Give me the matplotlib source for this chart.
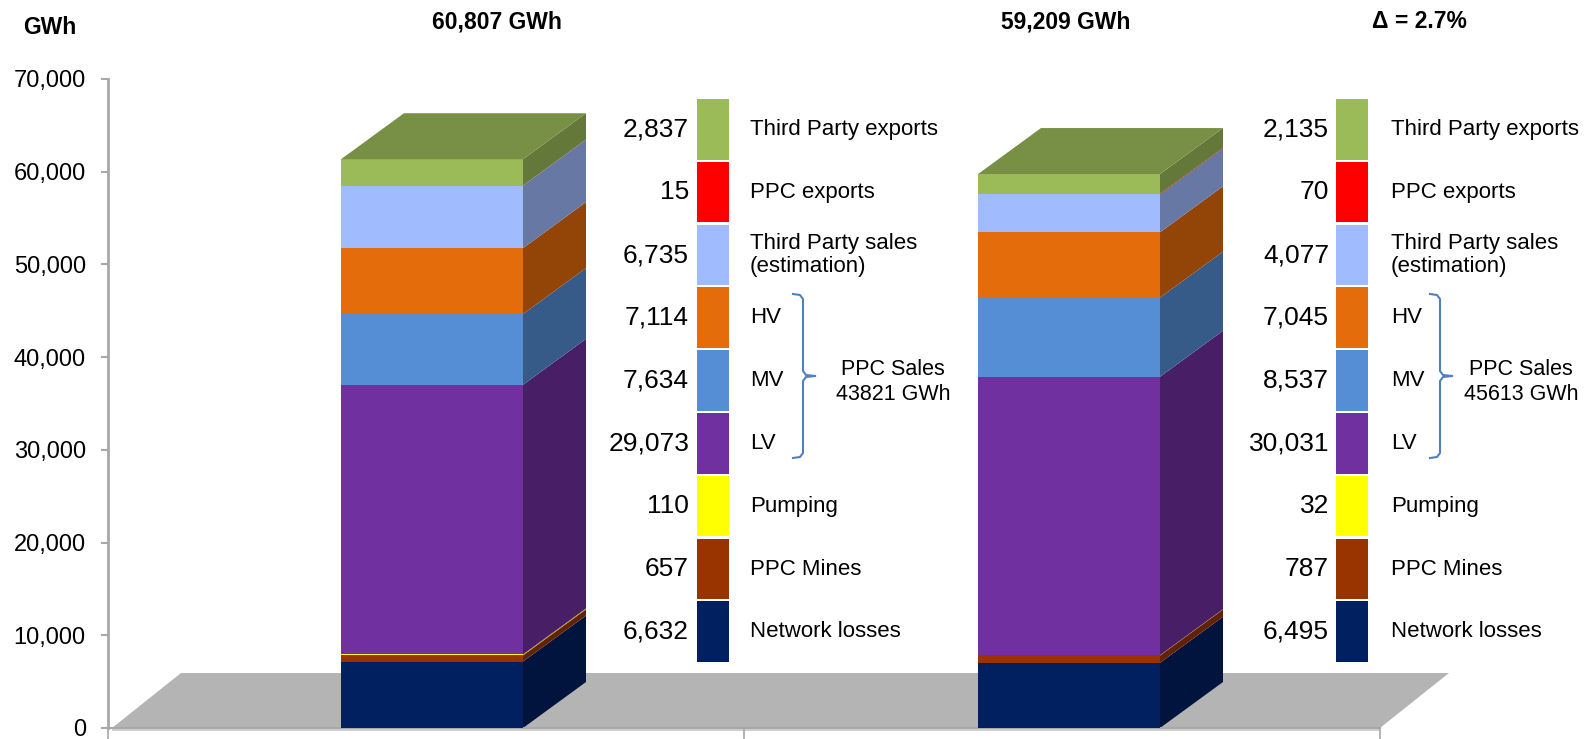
import numpy as np
import matplotlib
matplotlib.use("Agg")
import matplotlib.pyplot as plt
from matplotlib.patches import Polygon, Rectangle
from matplotlib.ticker import FuncFormatter
from matplotlib.colors import to_rgb

plt.rcParams['font.family'] = ['Liberation Sans', 'DejaVu Sans']

# Datos (de abajo hacia arriba)
categories = ["Network losses", "PPC Mines", "Pumping", "LV", "MV", "HV",
              "Third Party sales\n(estimation)", "PPC exports", "Third Party exports"]
vals_1 = [6632, 657, 110, 29073, 7634, 7114, 6735, 15, 2837]
vals_2 = [6495, 787, 32, 30031, 8537, 7045, 4077, 70, 2135]
colors = ["#002060", "#993300", "#ffff00", "#7030a0", "#558ed5", "#e46c0a",
          "#a0bcfe", "#ff0000", "#9bbb59"]
yticks = [0, 10000, 20000, 30000, 40000, 50000, 60000, 70000]

W, H = 1592, 739
fig = plt.figure(figsize=(W / 100, H / 100), dpi=100)

# Eje principal: x en pixeles, y en GWh
y0_px, ytop_px = 728, 79
ax = fig.add_axes([0, (H - y0_px) / H, 1, (y0_px - ytop_px) / H])
ax.set_xlim(0, W)
ax.set_ylim(0, 70000)
px2d = 70000 / (y0_px - ytop_px)

DX = 63
DY = 46 * px2d
LIFT = 5 * px2d  # desplazamiento 3D de la cara frontal


def shade(c, f):
    r, g, b = to_rgb(c)
    return (r * f, g * f, b * f)


# Piso gris
floor_h = 55 * px2d
ax.add_patch(Polygon([(112, 0), (1380, 0), (1449, floor_h), (181, floor_h)],
                     closed=True, fc="#b4b4b4", ec="none", zorder=1, clip_on=False))
ax.add_patch(Polygon([(112, 0), (1380, 0), (1380, -2.5 * px2d), (112, -2.5 * px2d)],
                     closed=True, fc="#cfcfcf", ec="none", zorder=1, clip_on=False))

centers = [432, 1069]
bw = 182
for xc, vals in zip(centers, [vals_1, vals_2]):
    cum = np.concatenate([[0], np.cumsum(vals)]) + LIFT
    cum[0] = 0
    xl, xr = xc - bw / 2, xc + bw / 2
    ax.bar([xc] * len(vals), np.diff(cum), width=bw, bottom=cum[:-1], color=colors,
           linewidth=0, zorder=3)
    for i, c in enumerate(colors):
        b, t = cum[i], cum[i + 1]
        ax.add_patch(Polygon([(xr, b), (xr + DX, b + DY), (xr + DX, t + DY), (xr, t)],
                             closed=True, fc=shade(c, 0.64), ec="none", zorder=2))
    top = cum[-1]
    ax.add_patch(Polygon([(xl, top), (xr, top), (xr + DX, top + DY), (xl + DX, top + DY)],
                         closed=True, fc=shade(colors[-1], 0.77), ec="none", zorder=3))

# Ejes
for s in ["top", "right"]:
    ax.spines[s].set_visible(False)
ax.spines["left"].set_position(("data", 108))
ax.spines["left"].set_color("#a8a8a8")
ax.spines["left"].set_linewidth(2)
ax.spines["bottom"].set_color("#a8a8a8")
ax.spines["bottom"].set_linewidth(1.5)
ax.spines["bottom"].set_bounds(108, 1380)
ax.spines["left"].set_zorder(0.5)
ax.set_yticks(yticks)
ax.yaxis.set_major_formatter(FuncFormatter(lambda v, p: f"{int(v):,}"))
ax.tick_params(axis="y", length=5, width=1.5, color="#a8a8a8", pad=11, labelsize=17)
ax.set_xticks([108, 744, 1380])
ax.set_xticklabels([])
ax.tick_params(axis="x", length=8, width=1.2, color="#a8a8a8", direction="out")
ax.patch.set_visible(False)

# Capa superior en pixeles para leyendas y textos
ov = fig.add_axes([0, 0, 1, 1])
ov.set_xlim(0, W)
ov.set_ylim(H, 0)
ov.axis("off")


def legend_block(vals, val_x, box_x, lab_x, brace_x, sales_x):
    n = len(vals)
    for i, (v, c, name) in enumerate(zip(vals, colors, categories)):
        top = 99 + (n - 1 - i) * 62.8
        ov.add_patch(Rectangle((box_x, top), 31.5, 60.5, fc=c, ec="none"))
        yc = top + 30.5
        ov.text(val_x, yc, f"{v:,}", ha="right", va="center", fontsize=19)
        ov.text(lab_x, yc, name, ha="left", va="center", fontsize=16,
                linespacing=1.15)
    # llave PPC Sales (HV, MV, LV)
    yt, yb, ym = 294, 459, 376
    bx = [brace_x - 10, brace_x - 3, brace_x, brace_x, brace_x + 3, brace_x + 12]
    by = [yt, yt + 1, yt + 5, ym - 5, ym - 1, ym]
    ov.plot(bx, by, color="#4f81bd", lw=1.5, solid_joinstyle="round")
    ov.plot(bx, [2 * ym - y for y in by], color="#4f81bd", lw=1.5,
            solid_joinstyle="round")
    sales = vals[3] + vals[4] + vals[5]
    ov.text(sales_x, 382, f"PPC Sales\n{sales} GWh", ha="center", va="center",
            fontsize=15.5, linespacing=1.3)


legend_block(vals_1, 689, 697, 750, 803, 893)
legend_block(vals_2, 1329, 1336, 1391, 1440, 1521)

tot_1, tot_2 = sum(vals_1), sum(vals_2)
delta = (tot_1 - tot_2) / tot_2 * 100
ov.text(50, 27, "GWh", ha="center", va="center", fontsize=16.5, fontweight="bold")
ov.text(497, 22, f"{tot_1:,} GWh", ha="center", va="center", fontsize=16.5, fontweight="bold")
ov.text(1066, 22, f"{tot_2:,} GWh", ha="center", va="center", fontsize=16.5, fontweight="bold")
ov.text(1419, 22, f"Δ = {delta:.1f}%", ha="center", va="center", fontsize=16.5, fontweight="bold")

fig.savefig("out.png", dpi=100)
